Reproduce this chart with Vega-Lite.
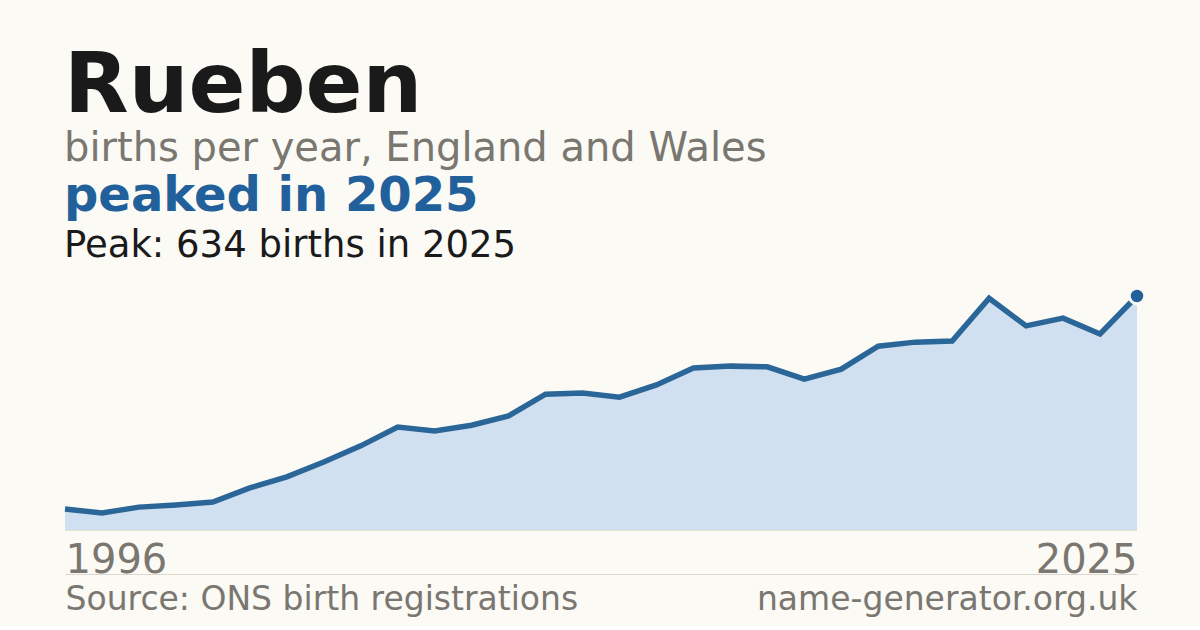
{
  "$schema": "https://vega.github.io/schema/vega-lite/v6.json",
  "background": "#fbfaf5",
  "padding": {"left": 54, "right": 64, "top": 45, "bottom": 10},
  "title": {
    "text": "Rueben",
    "subtitle": "births per year, England and Wales",
    "anchor": "start",
    "dx": 10,
    "font": "DejaVu Sans",
    "fontSize": 84,
    "fontWeight": "bold",
    "color": "#1a1a1a",
    "subtitleFont": "DejaVu Sans",
    "subtitleFontSize": 40,
    "subtitleColor": "#7a7670",
    "subtitlePadding": -1,
    "offset": 3
  },
  "config": {
    "view": {"stroke": null},
    "font": "DejaVu Sans"
  },
  "data": {
    "values": [
      {"year": 1996, "births": 57},
      {"year": 1997, "births": 46},
      {"year": 1998, "births": 62},
      {"year": 1999, "births": 68},
      {"year": 2000, "births": 76},
      {"year": 2001, "births": 114},
      {"year": 2002, "births": 144},
      {"year": 2003, "births": 184},
      {"year": 2004, "births": 228},
      {"year": 2005, "births": 279},
      {"year": 2006, "births": 268},
      {"year": 2007, "births": 284},
      {"year": 2008, "births": 309},
      {"year": 2009, "births": 368},
      {"year": 2010, "births": 371},
      {"year": 2011, "births": 360},
      {"year": 2012, "births": 393},
      {"year": 2013, "births": 439},
      {"year": 2014, "births": 444},
      {"year": 2015, "births": 442},
      {"year": 2016, "births": 409},
      {"year": 2017, "births": 436},
      {"year": 2018, "births": 498},
      {"year": 2019, "births": 509},
      {"year": 2020, "births": 512},
      {"year": 2021, "births": 628},
      {"year": 2022, "births": 553},
      {"year": 2023, "births": 574},
      {"year": 2024, "births": 531},
      {"year": 2025, "births": 634}
    ]
  },
  "vconcat": [
    {
      "width": 1072,
      "height": 234,
      "title": {
        "text": "peaked in 2025",
        "subtitle": "Peak: 634 births in 2025",
        "anchor": "start",
        "dx": 10,
        "font": "DejaVu Sans",
        "fontSize": 48,
        "fontWeight": "bold",
        "color": "#21609a",
        "subtitleFont": "DejaVu Sans",
        "subtitleFontSize": 37,
        "subtitleColor": "#1a1a1a",
        "subtitlePadding": 7,
        "offset": 18
      },
      "resolve": {"scale": {"x": "independent"}},
      "layer": [
        {
          "mark": {"type": "area", "color": "#d0e0f0"},
          "encoding": {
            "x": {
              "field": "year",
              "type": "quantitative",
              "scale": {"domain": [1996, 2025], "nice": false, "zero": false},
              "axis": {
                "orient": "bottom",
                "title": null,
                "values": [1996, 2025],
                "format": "d",
                "labelFlush": true,
                "labelOverlap": false,
                "labelLimit": 0,
                "ticks": false,
                "tickSize": 0,
                "grid": false,
                "domainColor": "#e6ddd0",
                "domainWidth": 1,
                "labelFontSize": 40,
                "labelColor": "#7a7670",
                "labelBaseline": "alphabetic",
                "labelPadding": 42
              }
            },
            "y": {
              "field": "births",
              "type": "quantitative",
              "scale": {"domain": [0, 634], "nice": false},
              "axis": null
            }
          }
        },
        {
          "mark": {"type": "line", "color": "#2b6699", "strokeWidth": 5.5, "strokeJoin": "miter"},
          "encoding": {
            "x": {
              "field": "year",
              "type": "quantitative",
              "scale": {"domain": [1996, 2025], "nice": false, "zero": false},
              "axis": {
                "orient": "bottom",
                "title": null,
                "values": [1996, 2025],
                "labelExpr": "datum.value == 1996 ? 'Source: ONS birth registrations' : 'name-generator.org.uk'",
                "labelFlush": true,
                "labelOverlap": false,
                "labelLimit": 0,
                "ticks": false,
                "tickSize": 0,
                "grid": false,
                "offset": 44,
                "domainColor": "#dcd8d0",
                "domainWidth": 1,
                "labelFontSize": 33,
                "labelColor": "#7a7670",
                "labelBaseline": "alphabetic",
                "labelPadding": 35
              }
            },
            "y": {
              "field": "births",
              "type": "quantitative",
              "scale": {"domain": [0, 634], "nice": false},
              "axis": null
            }
          }
        },
        {
          "transform": [{"filter": "datum.year == 2025"}],
          "mark": {"type": "point", "shape": "circle", "filled": true, "size": 240, "color": "#21609a", "stroke": "#fbfaf5", "strokeWidth": 3, "opacity": 1},
          "encoding": {
            "x": {
              "field": "year",
              "type": "quantitative",
              "scale": {"domain": [1996, 2025], "nice": false, "zero": false},
              "axis": null
            },
            "y": {
              "field": "births",
              "type": "quantitative",
              "scale": {"domain": [0, 634], "nice": false},
              "axis": null
            }
          }
        }
      ]
    }
  ]
}
